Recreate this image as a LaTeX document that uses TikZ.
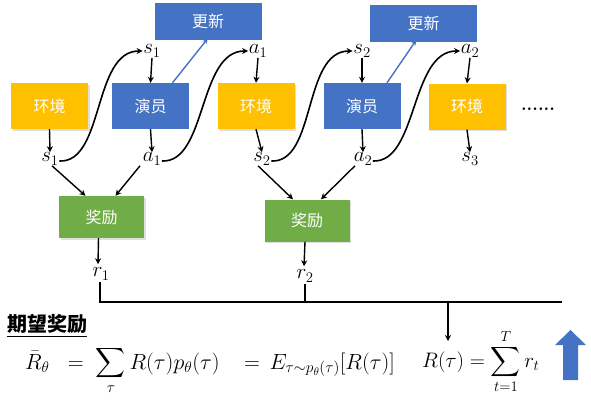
\RequirePackage{fix-cm}
\documentclass[tikz,border=0pt]{standalone}
\usepackage{amsmath}
\usepackage{fontspec}
\newfontfamily\cjk{Noto Sans CJK SC}
\usetikzlibrary{arrows.meta,shadows}
\definecolor{envy}{HTML}{FFC000}
\definecolor{actb}{HTML}{4472C4}
\definecolor{rewg}{HTML}{70AD47}
\begin{document}
\begin{tikzpicture}[x=1pt,y=-1pt,
  box/.style={minimum width=77pt,minimum height=46pt,inner sep=0pt,text=white,font=\cjk\fontsize{16}{19}\selectfont},
  envbox/.style={box,fill=envy,drop shadow={opacity=0.25,shadow xshift=1.5pt,shadow yshift=-1.5pt}},
  actbox/.style={box,fill=actb},
  updbox/.style={box,fill=actb,minimum width=107pt,minimum height=37pt},
  rewbox/.style={box,fill=rewg,minimum width=85pt,minimum height=42pt,drop shadow={opacity=0.25,shadow xshift=1.5pt,shadow yshift=-1.5pt}},
  lab/.style={inner sep=0.5pt,font=\fontsize{21}{25}\selectfont},
  arr/.style={-{Stealth[length=6pt,width=6pt]},line width=1.4pt,black},
  curve/.style={arr,line width=1.6pt},
  barr/.style={-{Stealth[length=6pt,width=5pt]},line width=1.4pt,actb},
  bline/.style={line width=1.6pt,black}]
\useasboundingbox (0,0) rectangle (591,408);
% boxes
\node[envbox] (env1) at (49.5,106) {环境};
\node[actbox] (act1) at (150.5,106) {演员};
\node[envbox] (env2) at (256,106) {环境};
\node[actbox] (act2) at (362,106) {演员};
\node[envbox] (env3) at (467,106.5) {环境};
\node[updbox] (upd1) at (208,21.5) {更新};
\node[updbox] (upd2) at (423.5,23) {更新};
\node[rewbox] (rew1) at (101.5,217) {奖励};
\node[rewbox] (rew2) at (307,220.5) {奖励};
\node[anchor=base,inner sep=0pt,font=\bfseries\fontsize{18}{22}\selectfont] (dots) at (538,110) {......};
% labels
\node[lab] (s1t) at (152,51) {$s_1$};
\node[lab] (a1t) at (258,51) {$a_1$};
\node[lab] (s2t) at (362,51) {$s_2$};
\node[lab] (a2t) at (470,51) {$a_2$};
\node[lab] (s1b) at (50,159) {$s_1$};
\node[lab] (a1b) at (152,159) {$a_1$};
\node[lab] (s2b) at (262,159) {$s_2$};
\node[lab] (a2b) at (363,159) {$a_2$};
\node[lab] (s3b) at (470,159) {$s_3$};
\node[lab] (r1) at (101,274) {$r_1$};
\node[lab] (r2) at (305,276) {$r_2$};
% vertical arrows
\draw[arr] (env1.south) -- (s1b.north);
\draw[arr] (act1.south) -- (a1b.north);
\draw[arr] (env2.south) -- (s2b.north);
\draw[arr] (act2.south) -- (a2b.north);
\draw[arr] (env3.south) -- (s3b.north);
\draw[arr] (s1t.south) -- (act1.north);
\draw[arr] (a1t.south) -- (env2.north);
\draw[arr] (s2t.south) -- (act2.north);
\draw[arr] (a2t.south) -- (env3.north);
% curves
\draw[curve] ([yshift=-2pt]s1b.east) .. controls +(45,2) and +(-50,0) .. (s1t.west);
\draw[curve] ([yshift=-2pt]a1b.east) .. controls +(45,2) and +(-50,0) .. (a1t.west);
\draw[curve] ([yshift=-2pt]s2b.east) .. controls +(45,2) and +(-50,0) .. (s2t.west);
\draw[curve] ([yshift=-2pt]a2b.east) .. controls +(45,2) and +(-50,0) .. (a2t.west);
% update arrows
\draw[barr] ([xshift=22pt]act1.north) -- ([yshift=2pt]upd1.south);
\draw[barr] ([xshift=25pt]act2.north) -- ([xshift=-7pt,yshift=2pt]upd2.south);
% reward arrows
\draw[arr] ([xshift=2pt]s1b.south) -- ([xshift=-16pt]rew1.north);
\draw[arr] ([xshift=-12pt]a1b.south) -- ([xshift=14pt]rew1.north);
\draw[arr] ([xshift=-4pt]s2b.south) -- ([xshift=-14pt]rew2.north);
\draw[arr] ([xshift=-8pt]a2b.south) -- ([xshift=14pt]rew2.north);
\draw[arr] ([xshift=-3pt]rew1.south) -- ([xshift=-3pt,yshift=3pt]r1.north);
\draw[arr] ([xshift=-2pt]rew2.south) -- ([xshift=-1pt,yshift=3pt]r2.north);
% sum line
\coordinate (c1) at (100,302);
\coordinate (c2) at (562,302);
\coordinate (c3) at (305,302);
\coordinate (c4) at (448,302);
\coordinate (c5) at (448,341);
\draw[bline] ([xshift=-1pt,yshift=-1pt]r1.south) |- (c2);
\draw[bline] (c3) -- ([yshift=-1pt]r2.south);
\draw[arr] (c4) -- (c5);
% formulas
\node[anchor=base west,inner sep=0pt,font=\cjk\bfseries\fontsize{20}{24}\selectfont] (title) at (7,331) {\underline{期望奖励}};
\node[anchor=base west,inner sep=0pt,font=\fontsize{22}{26}\selectfont] (f1) at (25,369)
  {$\displaystyle \bar{R}_\theta \;\;=\; \sum_\tau R(\tau)p_\theta(\tau)\;\;\; =\, E_{\tau\sim p_\theta(\tau)}[R(\tau)]$};
\node[anchor=base west,inner sep=0pt,font=\fontsize{21}{25}\selectfont] (f2) at (422,367)
  {$\displaystyle R(\tau) = \sum_{t=1}^{T} r_t$};
% big arrow
\fill[actb] (563,380) -- (563,345) -- (555,345) -- (570.5,330) -- (586,345) -- (578,345) -- (578,380) -- cycle;
\end{tikzpicture}
\end{document}
